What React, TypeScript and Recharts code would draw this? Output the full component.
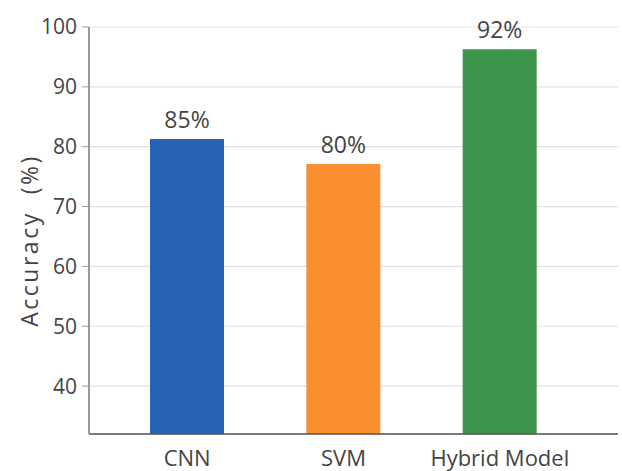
import React from 'react';
import { BarChart, Bar, XAxis, YAxis, CartesianGrid, Cell, LabelList } from 'recharts';

// Models on the x axis
const models = ['CNN', 'SVM', 'Hybrid Model'];
// Bar heights as drawn in the picture
const accuracy = [81.3, 77.1, 96.3];
// Text printed above each bar
const barLabels = ['85%', '80%', '92%'];
const barColors = ['#2862b6', '#f98f2f', '#3e964d'];
const yTicks = [40, 50, 60, 70, 80, 90, 100];

const data = models.map((name, i) => ({ name, value: accuracy[i], label: barLabels[i] }));

const FONT = '"Open Sans", "Noto Sans", sans-serif';
const TEXT_COLOR = '#444';

const App: React.FC = () => {
  return (
    <div style={{ position: 'absolute', left: 0, top: 0, background: '#fff' }}>
      <BarChart
        width={622}
        height={471}
        data={data}
        margin={{ top: 27, right: 4, bottom: 0, left: 0 }}
      >
        <CartesianGrid vertical={false} stroke="#e2e2e2" strokeWidth={1.2} />
        <XAxis
          dataKey="name"
          height={37}
          padding={{ left: 20, right: 40 }}
          tickLine={false}
          axisLine={{ stroke: '#555', strokeWidth: 1.5 }}
          tickMargin={10}
          tick={{ fontSize: 22, fill: TEXT_COLOR, fontFamily: FONT }}
        />
        <YAxis
          width={89}
          domain={[32, 100]}
          ticks={yTicks}
          allowDataOverflow
          tickSize={7}
          tickMargin={5}
          tickLine={{ stroke: '#999' }}
          axisLine={{ stroke: '#777', strokeWidth: 1.5 }}
          tick={{ fontSize: 21, fill: TEXT_COLOR, fontFamily: FONT }}
          label={{
            content: ({ viewBox }: any) => {
              const cy = viewBox.y + viewBox.height / 2 + 10;
              return (
                <text
                  x={29}
                  y={cy}
                  transform={`rotate(-90, 29, ${cy})`}
                  textAnchor="middle"
                  dominantBaseline="central"
                  fontSize={23}
                  fill={TEXT_COLOR}
                  fontFamily={FONT}
                  letterSpacing={2.5}
                  style={{ whiteSpace: 'pre' }}
                >
                  {'Accuracy  (%)'}
                </text>
              );
            },
          }}
        />
        <Bar dataKey="value" barSize={74} isAnimationActive={false}>
          {data.map((d, i) => (
            <Cell key={d.name} fill={barColors[i]} />
          ))}
          <LabelList
            dataKey="label"
            position="top"
            offset={11}
            style={{ fontSize: 23, fill: TEXT_COLOR, fontFamily: FONT }}
          />
        </Bar>
      </BarChart>
    </div>
  );
};

export default App;
